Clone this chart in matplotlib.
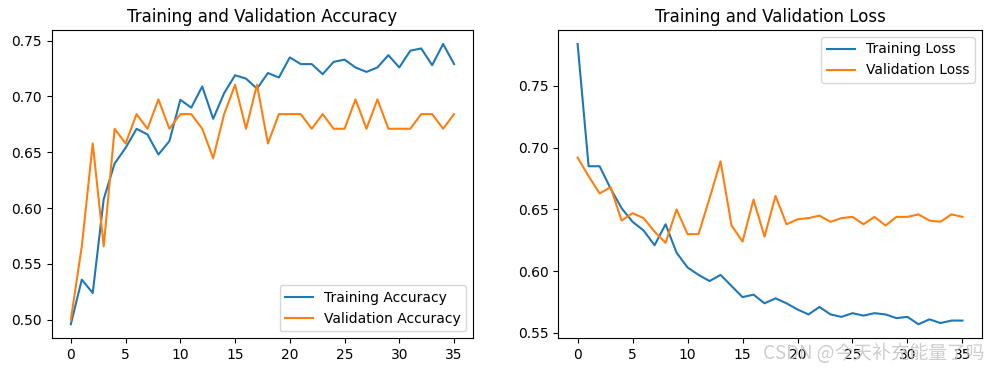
import matplotlib
matplotlib.use("Agg")
import matplotlib.pyplot as plt
import numpy as np

# per-epoch history
acc = [0.496, 0.536, 0.524, 0.608, 0.640, 0.654, 0.671, 0.666, 0.648, 0.660,
       0.697, 0.690, 0.709, 0.680, 0.703, 0.719, 0.716, 0.707, 0.721, 0.717,
       0.735, 0.729, 0.729, 0.720, 0.731, 0.733, 0.726, 0.722, 0.726, 0.737,
       0.726, 0.741, 0.743, 0.728, 0.747, 0.729]
val_acc = [0.5000, 0.5658, 0.6579, 0.5658, 0.6711, 0.6579, 0.6842, 0.6711, 0.6974, 0.6711,
           0.6842, 0.6842, 0.6711, 0.6447, 0.6842, 0.7105, 0.6711, 0.7105, 0.6579, 0.6842,
           0.6842, 0.6842, 0.6711, 0.6842, 0.6711, 0.6711, 0.6974, 0.6711, 0.6974, 0.6711,
           0.6711, 0.6711, 0.6842, 0.6842, 0.6711, 0.6842]
loss = [0.784, 0.685, 0.685, 0.667, 0.651, 0.640, 0.633, 0.621, 0.638, 0.615,
        0.603, 0.597, 0.592, 0.597, 0.588, 0.579, 0.581, 0.574, 0.578, 0.574,
        0.569, 0.565, 0.571, 0.565, 0.563, 0.566, 0.564, 0.566, 0.565, 0.562,
        0.563, 0.557, 0.561, 0.558, 0.560, 0.560]
val_loss = [0.692, 0.677, 0.663, 0.668, 0.641, 0.647, 0.643, 0.632, 0.623, 0.650,
            0.630, 0.630, 0.659, 0.689, 0.637, 0.624, 0.658, 0.628, 0.661, 0.638,
            0.642, 0.643, 0.645, 0.640, 0.643, 0.644, 0.638, 0.644, 0.637, 0.644,
            0.644, 0.646, 0.641, 0.640, 0.646, 0.644]

epochs_range = range(len(acc))

fig = plt.figure(figsize=(9.9, 3.72), dpi=100)

ax1 = fig.add_axes([0.0522, 0.0906, 0.4258, 0.8288])
ax1.plot(epochs_range, acc, label='Training Accuracy')
ax1.plot(epochs_range, val_acc, label='Validation Accuracy')
ax1.legend(loc='lower right')
ax1.set_title('Training and Validation Accuracy')

ax2 = fig.add_axes([0.564, 0.0906, 0.4276, 0.8288])
ax2.plot(epochs_range, loss, label='Training Loss')
ax2.plot(epochs_range, val_loss, label='Validation Loss')
ax2.legend(loc='upper right')
ax2.set_title('Training and Validation Loss')

# site watermark in the bottom right corner (it sits over the tick labels in the original too)
fig.text(0.771, 0.05, 'CSDN @今天补充能量了吗', fontsize=13.5, color='#c8c8c8',
         family=['Noto Sans CJK SC', 'DejaVu Sans'], va='center', alpha=0.9)

fig.savefig('out.png', dpi=100)
